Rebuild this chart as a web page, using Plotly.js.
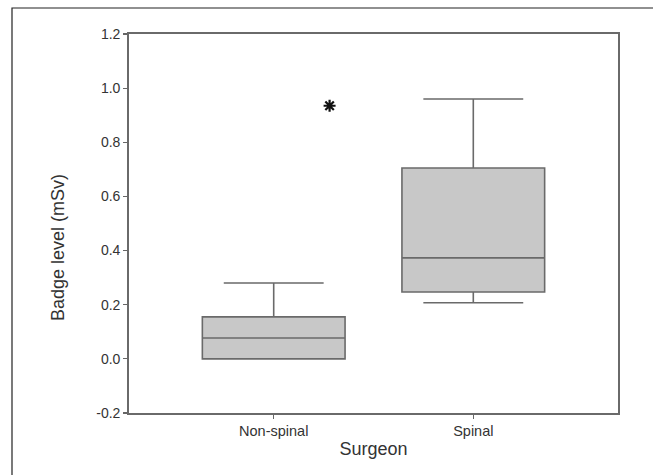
<!DOCTYPE html>
<html>
<head>
<meta charset="utf-8">
<script src="https://cdn.plot.ly/plotly-3.0.1.min.js"></script>
<style>
  html, body { margin: 0; padding: 0; background: #ffffff; }
  #chart { width: 653px; height: 475px; }
</style>
</head>
<body>
<div id="chart"></div>
<script>
// ---- Data ----
const categories = ["Non-spinal", "Spinal"];
const lowerWhisker = [0.0, 0.207];
const q1Values = [0.0, 0.247];
const medianValues = [0.077, 0.373];
const q3Values = [0.155, 0.705];
const upperWhisker = [0.28, 0.96];
const outlierCategory = ["Non-spinal"];
const outlierValues = [0.935];
const yTickValues = [-0.2, 0.0, 0.2, 0.4, 0.6, 0.8, 1.0, 1.2];
const yTickLabels = ["-0.2", "0.0", "0.2", "0.4", "0.6", "0.8", "1.0", "1.2"];

// ---- Layout helpers ----
const catPos = categories.map((c, i) => i);
const outlierOffset = 0.28;
const outlierX = outlierCategory.map(c => categories.indexOf(c) + outlierOffset);

const W = 653, H = 475;
const M = { l: 129, r: 35, t: 34, b: 62 };
const pw = W - M.l - M.r, ph = H - M.t - M.b;
const px2x = x => (x - M.l) / pw;
const py2y = y => (H - M.b - y) / ph;

const font = "Liberation Sans, Arial, sans-serif";

const boxTrace = {
  type: "box",
  x: catPos,
  q1: q1Values,
  median: medianValues,
  q3: q3Values,
  lowerfence: lowerWhisker,
  upperfence: upperWhisker,
  width: 0.715,
  whiskerwidth: 0.7,
  fillcolor: "#c8c8c8",
  line: { color: "#6a6a6a", width: 1.6 },
  boxpoints: false,
  hoverinfo: "skip",
  showlegend: false
};

// Outlier drawn as an asterisk marker at its data value
const outlierTrace = {
  type: "scatter",
  mode: "markers",
  x: outlierX,
  y: outlierValues,
  marker: { symbol: "asterisk-open", size: 10, color: "#111111", line: { color: "#111111", width: 2.2 } },
  hoverinfo: "skip",
  showlegend: false
};

const layout = {
  width: W,
  height: H,
  margin: M,
  paper_bgcolor: "#ffffff",
  plot_bgcolor: "#ffffff",
  font: { family: font, color: "#333333", size: 12 },
  xaxis: {
    range: [-0.725, 1.725],
    tickvals: catPos,
    ticktext: categories,
    ticks: "outside",
    ticklen: 4,
    tickwidth: 1.2,
    tickcolor: "#666666",
    showline: true,
    linecolor: "#6a6a6a",
    linewidth: 1.8,
    mirror: true,
    showgrid: false,
    zeroline: false,
    tickfont: { family: font, size: 14.5, color: "#333333" },
    title: { text: "Surgeon", font: { family: font, size: 18, color: "#333333" }, standoff: 4 },
    fixedrange: true
  },
  yaxis: {
    range: [-0.2, 1.2],
    tickvals: yTickValues,
    ticktext: yTickLabels,
    ticks: "outside",
    ticklen: 4,
    tickwidth: 1.2,
    tickcolor: "#666666",
    showline: true,
    linecolor: "#6a6a6a",
    linewidth: 1.8,
    mirror: true,
    showgrid: false,
    zeroline: false,
    tickfont: { family: font, size: 14, color: "#333333" },
    fixedrange: true
  },
  annotations: [{
    text: "Badge level (mSv)",
    xref: "paper", yref: "paper",
    x: px2x(58), y: py2y(248),
    xanchor: "center", yanchor: "middle",
    textangle: -90,
    showarrow: false,
    font: { family: font, size: 18, color: "#333333" }
  }],
  shapes: [{
    type: "path",
    xref: "paper", yref: "paper",
    path: "M " + px2x(12) + " " + py2y(480) + " L " + px2x(12) + " " + py2y(8) + " L " + px2x(660) + " " + py2y(8),
    line: { color: "#222222", width: 1.2 },
    layer: "above"
  }]
};

Plotly.newPlot("chart", [boxTrace, outlierTrace], layout, { displayModeBar: false, staticPlot: true });
</script>
</body>
</html>
